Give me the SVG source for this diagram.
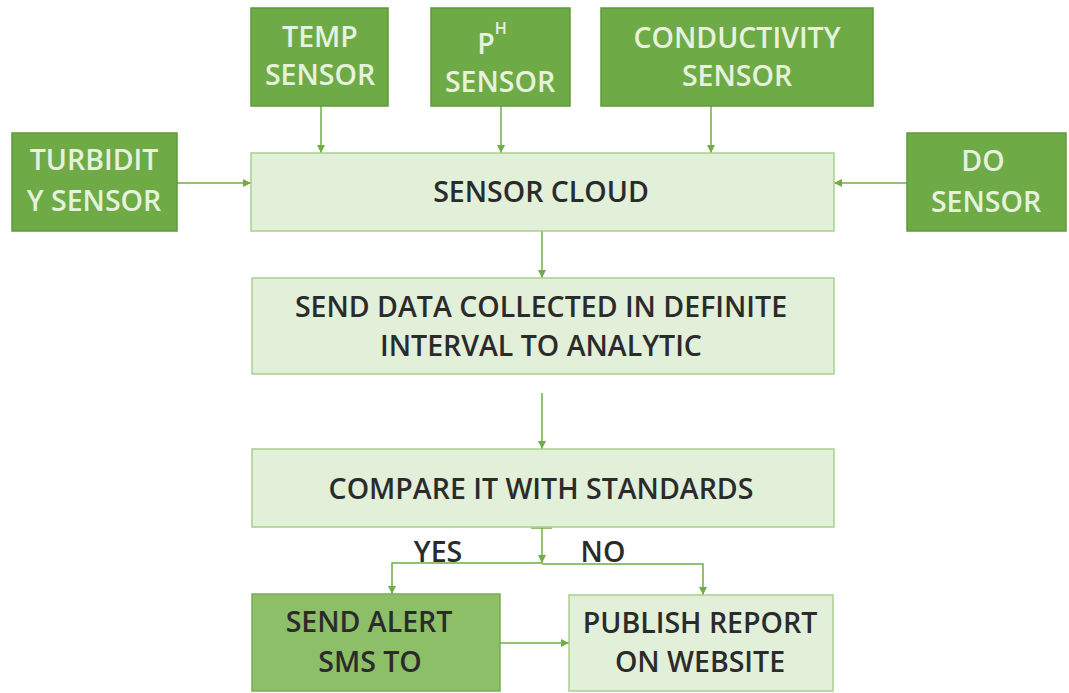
<svg xmlns="http://www.w3.org/2000/svg" width="1069" height="693" viewBox="0 0 1069 693">
<defs>
<style>
.dark{fill:#6eab47;stroke:#5e9a3a;stroke-width:1.5}
.light{fill:#e2efd9;stroke:#a9cf8f;stroke-width:1.5}
.mid{fill:#8dbf68;stroke:#79ad55;stroke-width:1.5}
text{font-family:"Open Sans","Liberation Sans",sans-serif;font-size:28.5px;font-weight:600;text-anchor:middle}
.wt{fill:#e6f2dc}
.bt{fill:#2b2b2b}
.c{fill:none;stroke:#70ad47;stroke-width:1.5}
</style>
<marker id="ah" markerUnits="userSpaceOnUse" markerWidth="9" markerHeight="9" refX="8" refY="4" orient="auto">
<path d="M0,0 L8,4 L0,8 z" fill="#70ad47"/>
</marker>
</defs>
<rect width="1069" height="693" fill="#ffffff"/>
<g id="connectors">
<line class="c" x1="321" y1="106" x2="321" y2="153" marker-end="url(#ah)"/>
<line class="c" x1="501" y1="106" x2="501" y2="153" marker-end="url(#ah)"/>
<line class="c" x1="711" y1="106" x2="711" y2="153" marker-end="url(#ah)"/>
<line class="c" x1="177" y1="183" x2="251" y2="183" marker-end="url(#ah)"/>
<line class="c" x1="907" y1="183" x2="834" y2="183" marker-end="url(#ah)"/>
<line class="c" x1="542" y1="231" x2="542" y2="278" marker-end="url(#ah)"/>
<line class="c" x1="542" y1="393" x2="542" y2="449" marker-end="url(#ah)"/>
<line class="c" x1="531" y1="528" x2="552" y2="528"/>
<line class="c" x1="542" y1="528" x2="542" y2="563" marker-end="url(#ah)"/>
<polyline class="c" points="542,563 392,563 392,594" marker-end="url(#ah)"/>
<polyline class="c" points="542,564 703,564 703,595" marker-end="url(#ah)"/>
<line class="c" x1="500" y1="643" x2="569" y2="643" marker-end="url(#ah)"/>
<text class="bt" x="438" y="562">YES</text>
<text class="bt" x="603" y="562">NO</text>
</g>
<g id="temp">
<rect class="dark" x="251" y="8" width="137" height="98"/>
<text class="wt" x="320" y="47">TEMP</text>
<text class="wt" x="320" y="85">SENSOR</text>
</g>
<g id="ph">
<rect class="dark" x="431" y="8" width="139" height="98"/>
<text class="wt" x="492" y="54">P<tspan font-size="16" dy="-20">H</tspan></text>
<text class="wt" x="500" y="92">SENSOR</text>
</g>
<g id="conductivity">
<rect class="dark" x="601" y="8" width="272" height="98"/>
<text class="wt" x="737" y="48">CONDUCTIVITY</text>
<text class="wt" x="737" y="86">SENSOR</text>
</g>
<g id="turbidity">
<rect class="dark" x="12" y="133" width="165" height="98"/>
<text class="wt" x="94" y="170">TURBIDIT</text>
<text class="wt" x="94" y="211">Y SENSOR</text>
</g>
<g id="do">
<rect class="dark" x="907" y="133" width="159" height="98"/>
<text class="wt" x="983" y="171">DO</text>
<text class="wt" x="986" y="212">SENSOR</text>
</g>
<g id="cloud">
<rect class="light" x="251" y="153" width="583" height="78"/>
<text class="bt" x="541" y="202">SENSOR CLOUD</text>
</g>
<g id="data">
<rect class="light" x="252" y="278" width="582" height="96"/>
<text class="bt" x="541" y="317">SEND DATA COLLECTED IN DEFINITE</text>
<text class="bt" x="541" y="356">INTERVAL TO ANALYTIC</text>
</g>
<g id="compare">
<rect class="light" x="252" y="449" width="582" height="78"/>
<text class="bt" x="541" y="499">COMPARE IT WITH STANDARDS</text>
</g>
<g id="alert">
<rect class="mid" x="252" y="594" width="248" height="97"/>
<text class="bt" x="369" y="632">SEND ALERT</text>
<text class="bt" x="370" y="672">SMS TO</text>
</g>
<g id="publish">
<rect class="light" x="569" y="595" width="264" height="96"/>
<text class="bt" x="700" y="633">PUBLISH REPORT</text>
<text class="bt" x="700" y="672">ON WEBSITE</text>
</g>
</svg>
